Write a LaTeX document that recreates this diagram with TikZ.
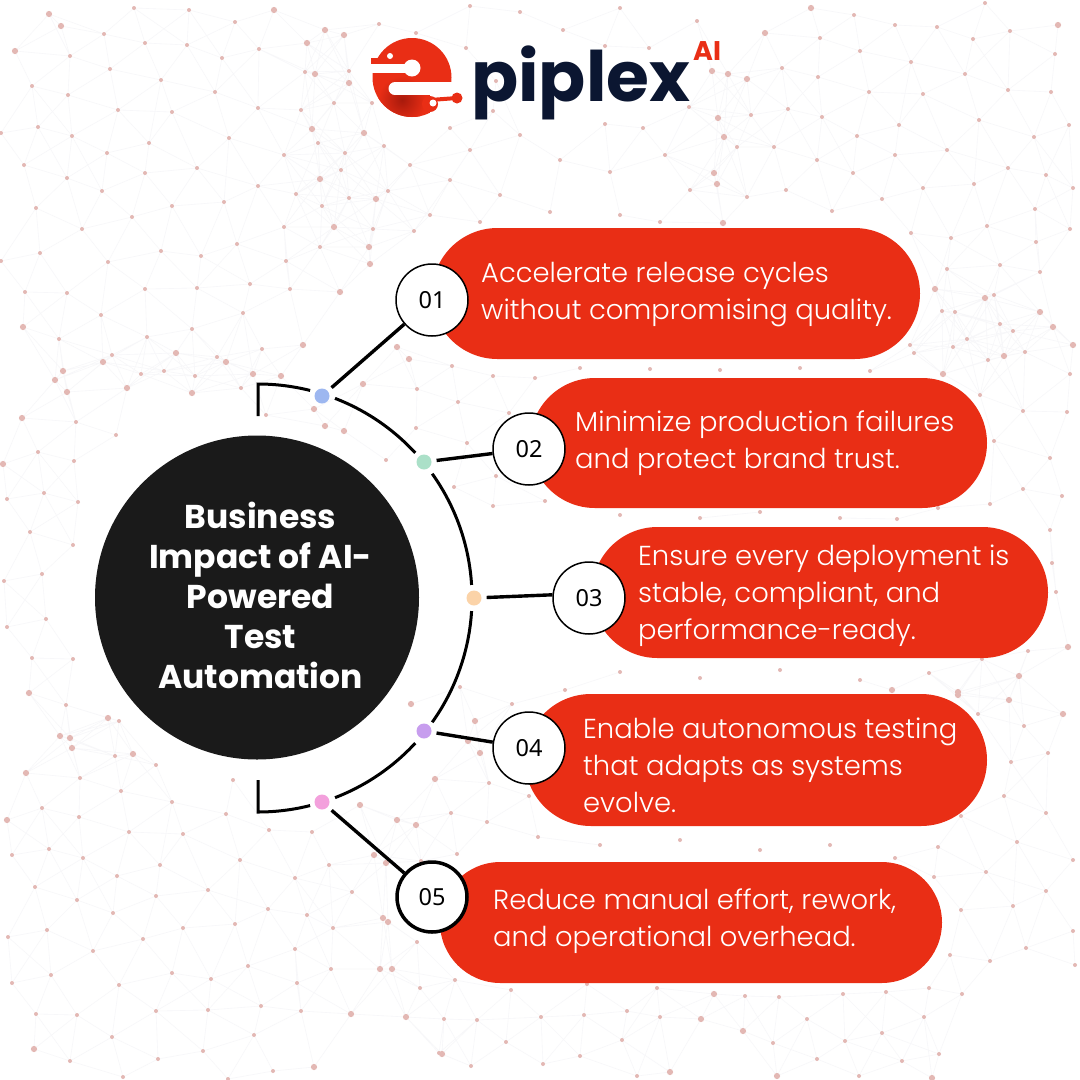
\documentclass[tikz,border=0pt]{standalone}
\usepackage{fontspec}
\usetikzlibrary{shapes.misc,calc}
\setmainfont{Poppins}
\newfontfamily\bodyf{Poppins Light}
\newfontfamily\numf{Noto Sans}
\newfontfamily\headf{Poppins}[UprightFont=* Bold]
\definecolor{pillred}{HTML}{E92E15}
\definecolor{logodark}{HTML}{A81A0C}
\definecolor{navy}{HTML}{0B1631}
\definecolor{hubc}{HTML}{1A1A1A}
\definecolor{dotc}{HTML}{E3B8B4}
\definecolor{meshc}{HTML}{F7F7F9}
\definecolor{dblue}{HTML}{9DB7F0}
\definecolor{dgreen}{HTML}{ABE0C8}
\definecolor{dorange}{HTML}{FBD3A8}
\definecolor{dpurple}{HTML}{C79DEE}
\definecolor{dpink}{HTML}{F3A0DC}
\def\ptlist{%
\pt{118}{110}\pt{172}{112}\pt{258}{108}\pt{301}{110}\pt{334}{103}\pt{372}{103}\pt{38}{127}\pt{1}{133}\pt{72}{136}\pt{149}{143}\pt{229}{138}\pb{312}{129}\pb{364}{133}\pt{318}{143}\pt{384}{146}\pt{345}{153}\pt{107}{153}\pt{284}{155}\pt{24}{165}\pt{197}{168}\pt{145}{173}\pt{341}{170}\pt{67}{178}\pb{320}{179}\pt{258}{186}\pt{102}{191}\pt{296}{194}\pt{388}{191}\pt{349}{198}\pb{376}{199}\pt{172}{206}\pt{224}{202}\pt{322}{206}\pt{36}{208}\pt{132}{217}\pt{82}{229}\pt{284}{227}\pb{334}{227}\pt{373}{229}\pt{237}{244}\pt{320}{247}\pb{369}{247}\pt{161}{251}\pt{201}{256}\pt{40}{253}\pt{1}{261}\pt{108}{262}\pt{286}{261}\pb{370}{264}\pt{250}{284}\pt{145}{289}\pt{197}{288}\pt{290}{289}\pb{340}{292}\pt{25}{292}\pt{67}{293}\pt{243}{313}\pt{101}{315}\pb{23}{327}\pt{192}{329}\pt{147}{337}\pt{59}{339}\pb{303}{345}\pt{262}{349}\pb{397}{347}\pb{176}{353}\pt{112}{355}\pt{217}{357}\pb{103}{362}\pb{226}{362}\pb{63}{371}\pt{164}{371}\pt{141}{374}\pb{253}{374}\pb{281}{376}\pt{195}{376}\pb{55}{380}\pb{363}{384}\pb{127}{388}\pt{241}{388}\pb{67}{392}\pb{192}{393}%
\pt{414}{231}\pb{409}{359}\pt{452}{366}\pt{493}{376}\pt{535}{378}\pt{417}{389}\pt{458}{402}\pt{509}{413}\pt{266}{415}\pb{314}{409}\pb{325}{426}\pb{344}{431}\pt{416}{428}\pt{467}{443}\pt{386}{460}\pt{496}{476}\pt{454}{487}\pt{493}{506}\pt{545}{501}%
\pb{411}{704}\pt{460}{687}\pt{512}{704}\pt{565}{690}\pb{475}{721}\pb{468}{741}\pb{480}{753}\pb{435}{779}\pt{489}{783}\pt{529}{796}\pb{360}{805}\pt{451}{813}\pt{487}{822}\pt{538}{837}\pb{397}{820}\pb{416}{825}\pt{269}{830}\pt{312}{832}\pt{457}{854}\pb{374}{855}\pb{386}{863}\pt{421}{861}\pt{329}{865}\pt{295}{878}\pt{352}{892}\pt{268}{909}\pt{307}{915}\pb{383}{918}\pb{388}{922}\pt{333}{928}\pt{417}{942}\pt{295}{949}\pt{248}{966}\pt{331}{969}\pb{380}{969}\pb{392}{969}%
\pb{26}{773}\pt{80}{778}\pt{121}{791}\pt{233}{780}\pt{172}{802}\pt{42}{808}\pt{79}{817}\pt{226}{814}\pb{7}{820}\pt{129}{832}\pt{183}{834}\pt{49}{849}\pt{12}{855}\pt{83}{858}\pt{240}{860}\pt{160}{865}\pt{117}{876}\pt{35}{887}\pt{208}{890}\pt{156}{896}\pt{77}{900}\pt{113}{913}\pt{47}{930}\pt{183}{928}\pt{235}{924}\pt{8}{937}\pt{143}{939}\pt{93}{951}\pt{172}{973}\pt{51}{975}\pt{211}{979}\pt{12}{983}\pt{119}{985}\pt{297}{983}\pt{261}{1006}\pt{36}{1014}\pt{77}{1015}\pt{156}{1011}\pt{208}{1010}\pt{301}{1011}\pb{351}{1014}\pb{406}{1017}\pt{420}{988}\pt{112}{1037}\pt{254}{1035}\pb{34}{1049}\pt{203}{1051}\pt{158}{1059}\pt{70}{1061}\pb{314}{1067}\pt{273}{1071}\pt{123}{1077}\pt{228}{1079}\pt{439}{1053}%
\pb{49}{14}\pt{134}{8}\pt{189}{10}\pb{274}{10}\pb{61}{26}\pt{235}{22}\pt{104}{34}\pb{325}{30}\pb{344}{35}\pt{379}{24}\pt{145}{43}\pt{187}{45}\pb{307}{43}\pb{15}{51}\pt{70}{56}\pt{222}{58}\pt{259}{49}\pt{110}{69}\pt{305}{72}\pb{315}{74}\pt{349}{71}\pb{349}{83}\pt{161}{80}\pt{32}{86}\pt{68}{95}\pt{215}{92}%
\pt{416}{33}\pt{563}{30}\pt{697}{21}\pt{466}{48}\pt{605}{46}\pt{649}{48}\pt{496}{81}\pt{689}{107}\pt{493}{111}\pt{605}{124}\pt{450}{128}\pt{643}{128}\pt{470}{6}\pt{520}{12}\pt{620}{8}%
\pt{470}{150}\pt{520}{135}\pt{560}{160}\pt{610}{172}\pt{665}{155}\pt{690}{190}\pt{500}{195}\pt{450}{180}\pt{410}{165}\pt{430}{215}\pt{480}{222}\pt{550}{212}\pt{620}{215}\pt{660}{222}%
\pb{811}{8}\pt{854}{15}\pt{985}{3}\pt{895}{25}\pt{937}{27}\pb{1058}{25}\pb{765}{33}\pt{820}{38}\pt{973}{39}\pt{1010}{31}\pt{860}{51}\pt{1055}{54}\pt{911}{62}\pb{712}{71}\pb{728}{74}\pb{747}{79}\pt{782}{68}\pt{818}{77}\pt{965}{74}\pt{869}{92}\pt{923}{94}\pt{1008}{90}\pt{1051}{92}\pt{788}{109}\pt{751}{115}\pb{718}{118}\pt{822}{117}\pt{979}{120}\pt{899}{125}\pt{1069}{125}\pt{857}{136}\pt{1034}{137}\pb{724}{137}\pt{737}{147}\pt{774}{147}\pt{947}{150}\pt{895}{155}\pt{817}{160}\pt{1008}{168}\pt{1046}{175}\pb{714}{173}\pb{717}{184}\pt{853}{173}\pt{974}{184}\pt{923}{188}\pt{1073}{188}\pt{786}{190}\pt{747}{197}\pt{882}{199}\pt{832}{211}\pt{1035}{209}\pt{987}{226}\pt{1070}{229}\pb{723}{223}\pt{911}{233}\pt{951}{238}%
\pt{1036}{242}\pt{1000}{265}\pt{947}{269}\pt{1040}{272}\pb{935}{289}\pb{985}{298}\pt{994}{295}\pt{942}{311}\pt{955}{312}\pb{1040}{312}\pb{1053}{327}\pt{1000}{324}\pt{1013}{331}\pt{967}{339}\pt{910}{345}\pt{953}{347}\pb{1073}{345}\pt{914}{353}\pt{1025}{352}\pb{1004}{356}\pt{988}{360}\pb{943}{374}\pt{1070}{374}\pt{980}{395}\pt{1023}{411}\pt{1067}{412}\pt{994}{441}\pt{1050}{458}\pt{1023}{489}\pt{1062}{496}\pt{990}{504}\pt{938}{508}\pt{897}{519}\pt{1050}{530}\pt{1052}{563}\pt{1056}{592}\pb{1068}{647}\pt{1028}{651}\pt{982}{659}\pt{929}{673}\pb{1019}{676}\pb{892}{690}\pb{958}{692}\pb{958}{695}\pb{1009}{700}\pb{1063}{714}\pt{978}{714}\pt{1024}{726}\pt{1048}{753}\pt{1011}{762}\pt{1004}{796}\pt{1046}{813}\pt{961}{816}\pt{1017}{842}\pt{938}{847}\pt{895}{858}\pt{1073}{860}\pt{986}{872}\pt{934}{877}\pt{1046}{891}\pt{1013}{906}\pt{961}{910}\pt{1073}{931}\pt{1026}{948}\pt{950}{955}\pt{990}{961}\pt{1075}{965}%
\pt{455}{980}\pt{511}{990}\pt{587}{984}\pt{657}{988}\pb{714}{994}\pt{745}{996}\pt{779}{997}\pt{843}{994}\pt{886}{992}\pt{929}{988}\pt{962}{994}\pt{444}{1019}\pt{477}{1020}\pt{541}{1017}\pt{584}{1015}\pt{627}{1011}\pt{660}{1017}\pb{701}{1019}\pt{807}{1019}\pt{924}{1017}\pb{743}{1031}\pt{882}{1033}\pt{506}{1042}\pt{622}{1040}\pt{773}{1043}\pt{845}{1041}\pb{442}{1054}\pt{939}{1054}\pt{580}{1056}\pt{817}{1059}\pt{902}{1061}\pt{471}{1066}\pt{543}{1064}\pb{670}{1072}\pt{637}{1076}\pb{777}{1076}\pt{859}{1076}\pb{932}{1078}%
\pb{22}{418}\pt{76}{422}\pt{38}{452}\pb{3}{464}\pt{74}{461}\pt{44}{493}\pt{7}{499}\pt{78}{502}\pt{30}{532}\pt{73}{545}\pt{42}{574}\pt{4}{581}\pt{46}{619}\pt{7}{627}\pt{32}{658}\pt{73}{659}\pb{29}{693}\pt{66}{705}\pb{108}{718}\pb{60}{736}\pb{70}{738}\pb{72}{748}\pt{116}{435}\pt{119}{721}\pt{115}{756}\pb{133}{754}\pt{156}{765}%
\pt{580}{368}\pt{650}{369}\pt{720}{370}\pt{800}{368}\pt{870}{371}\pt{620}{515}\pt{700}{518}\pt{760}{512}\pt{840}{518}\pt{620}{672}\pt{700}{678}\pt{780}{670}\pt{860}{680}\pt{600}{845}\pt{680}{840}\pt{760}{850}\pt{830}{845}}
\def\meshInner#1#2{\ifnum#1>\ax\relax\ifnum\numexpr(#1-\ax)*(#1-\ax)+(#2-\ay)*(#2-\ay)\relax<4200 \pgfpathmoveto{\pgfqpoint{\ax pt}{-\ay pt}}\pgfpathlineto{\pgfqpoint{#1pt}{-#2pt}}\fi\fi}
\def\meshOuter#1#2{\def\ax{#1}\def\ay{#2}\let\pt\meshInner\let\pb\meshInner\ptlist\let\pt\meshOuter\let\pb\meshOuter}
\tikzset{
  pill/.style={rounded rectangle,fill=pillred,draw=none,inner sep=0pt},
  pilltext/.style={anchor=west,align=left,text=white,inner sep=0pt,font=\bodyf\fontsize{27.4}{37}\selectfont},
  numnode/.style={circle,draw=black,fill=white,line width=1.5pt,minimum size=72pt,inner sep=0pt,font=\numf\fontsize{23.5}{25}\selectfont},
  conn/.style={line width=3.4pt,black,shorten <=5pt},
  ringline/.style={line width=3pt,black},
  dotnode/.style={circle,minimum size=15pt,inner sep=0pt},
}
\begin{document}
\begin{tikzpicture}[x=1pt,y=-1pt]
\useasboundingbox (0,0) rectangle (1080,1080);
\fill[white] (0,0) rectangle (1080,1080);
% background mesh
\begin{scope}
\pgfsetlinewidth{0.6pt}\pgfsetstrokecolor{meshc}
\let\pt\meshOuter\let\pb\meshOuter
\ptlist
\pgfusepath{stroke}
\end{scope}
\fill[white] (258,598) circle[radius=178];
\def\pt#1#2{\fill[dotc] (#1,#2) circle[radius=2];}
\def\pb#1#2{\fill[dotc] (#1,#2) circle[radius=3.1];}
\ptlist
% logo
\fill[pillred] (412,77.5) circle[radius=39.5];
\begin{scope}
\clip (412,77.5) circle[radius=39.5];
\shade[inner color=logodark,outer color=pillred] (402,100) circle[radius=24];
\end{scope}
\fill[white] (412,68) circle[radius=8.5];
\fill[white] (365,64) rectangle (412,72.5);
\fill[white] (395,88.5) circle[radius=6.5];
\fill[white] (395,82) rectangle (458,95);
\fill[white] (430,95) rectangle (458,120);
\fill[pillred] (371,58) rectangle (392,64);
\fill[pillred] (390,56) circle[radius=6];
\fill[white] (390,56) circle[radius=3];
\fill[pillred] (430,104) circle[radius=8];
\draw[pillred,line width=4pt] (430,100) -- (457,98);
\fill[pillred] (457,98) circle[radius=5.5];
\fill[white] (433,103) circle[radius=3.5];
\node[anchor=base west,inner sep=0pt,text=navy,font=\headf\fontsize{69.5}{70}\selectfont] (brand) at (471,101) {piplex};
\node[anchor=base west,inner sep=0pt,text=pillred,font=\headf\fontsize{27}{27}\selectfont] (brandai) at (693,60) {AI};
% ring
\coordinate (c) at (258,598);
\coordinate (tb) at (258,416);
\coordinate (bb) at (258,780);
\draw[ringline] (tb) -- ($(c)+(-90:214)$) arc[start angle=-90,end angle=-75.9,radius=214];
\draw[ringline] ($(c)+(-68.9:214)$) arc[start angle=-68.9,end angle=-42.7,radius=214];
\draw[ringline] ($(c)+(-35.5:214)$) arc[start angle=-35.5,end angle=-3.5,radius=214];
\draw[ringline] ($(c)+(3.5:214)$) arc[start angle=3.5,end angle=35.5,radius=214];
\draw[ringline] ($(c)+(42.7:214)$) arc[start angle=42.7,end angle=68.9,radius=214];
\draw[ringline] ($(c)+(75.9:214)$) arc[start angle=75.9,end angle=90,radius=214] -- (bb);
% hub
\node[circle,fill=hubc,minimum size=324pt,inner sep=0pt] (hub) at (257,597.5) {};
\node[inner sep=0pt,align=center,text=white,font=\headf\fontsize{33}{40}\selectfont] (hubtext) at (260.5,595.5) {Business\\Impact of AI-\\Powered\\Test\\Automation};
% pills
\node[pill,minimum width=488pt,minimum height=131pt] (p1) at (676,293.5) {};
\node[pill,minimum width=457pt,minimum height=130pt] (p2) at (758.5,443) {};
\node[pill,minimum width=456pt,minimum height=131pt] (p3) at (820,592.5) {};
\node[pill,minimum width=462pt,minimum height=132pt] (p4) at (756,760) {};
\node[pill,minimum width=502pt,minimum height=121pt] (p5) at (691,922.5) {};
\node[pilltext] (t1) at (481,295) {Accelerate release cycles\\without compromising quality.};
\node[pilltext] (t2) at (575,443.5) {Minimize production failures\\and protect brand trust.};
\node[pilltext] (t3) at (638,596) {Ensure every deployment is\\stable, compliant, and\\performance-ready.};
\node[pilltext] (t4) at (583,765.5) {Enable autonomous testing\\that adapts as systems\\evolve.};
\node[pilltext] (t5) at (493,921) {Reduce manual effort, rework,\\and operational overhead.};
% number circles
\node[numnode] (n1) at (432,300) {01};
\node[numnode] (n2) at (529,449) {02};
\node[numnode] (n3) at (589,598) {03};
\node[numnode] (n4) at (529,748) {04};
\node[numnode,line width=3.5pt,minimum size=70pt] (n5) at (432,897) {05};
% dots
\node[dotnode,fill=dblue] (d1) at (322,396) {};
\node[dotnode,fill=dgreen] (d2) at (424,462) {};
\node[dotnode,fill=dorange] (d3) at (474,598) {};
\node[dotnode,fill=dpurple] (d4) at (424,731) {};
\node[dotnode,fill=dpink] (d5) at (322,802) {};
% connectors
\draw[conn] (d1) -- (n1);
\draw[conn] (d2) -- (n2);
\draw[conn] (d3) -- (n3.175);
\draw[conn] (d4) -- (n4);
\draw[conn] (d5) -- (n5);
\end{tikzpicture}
\end{document}
